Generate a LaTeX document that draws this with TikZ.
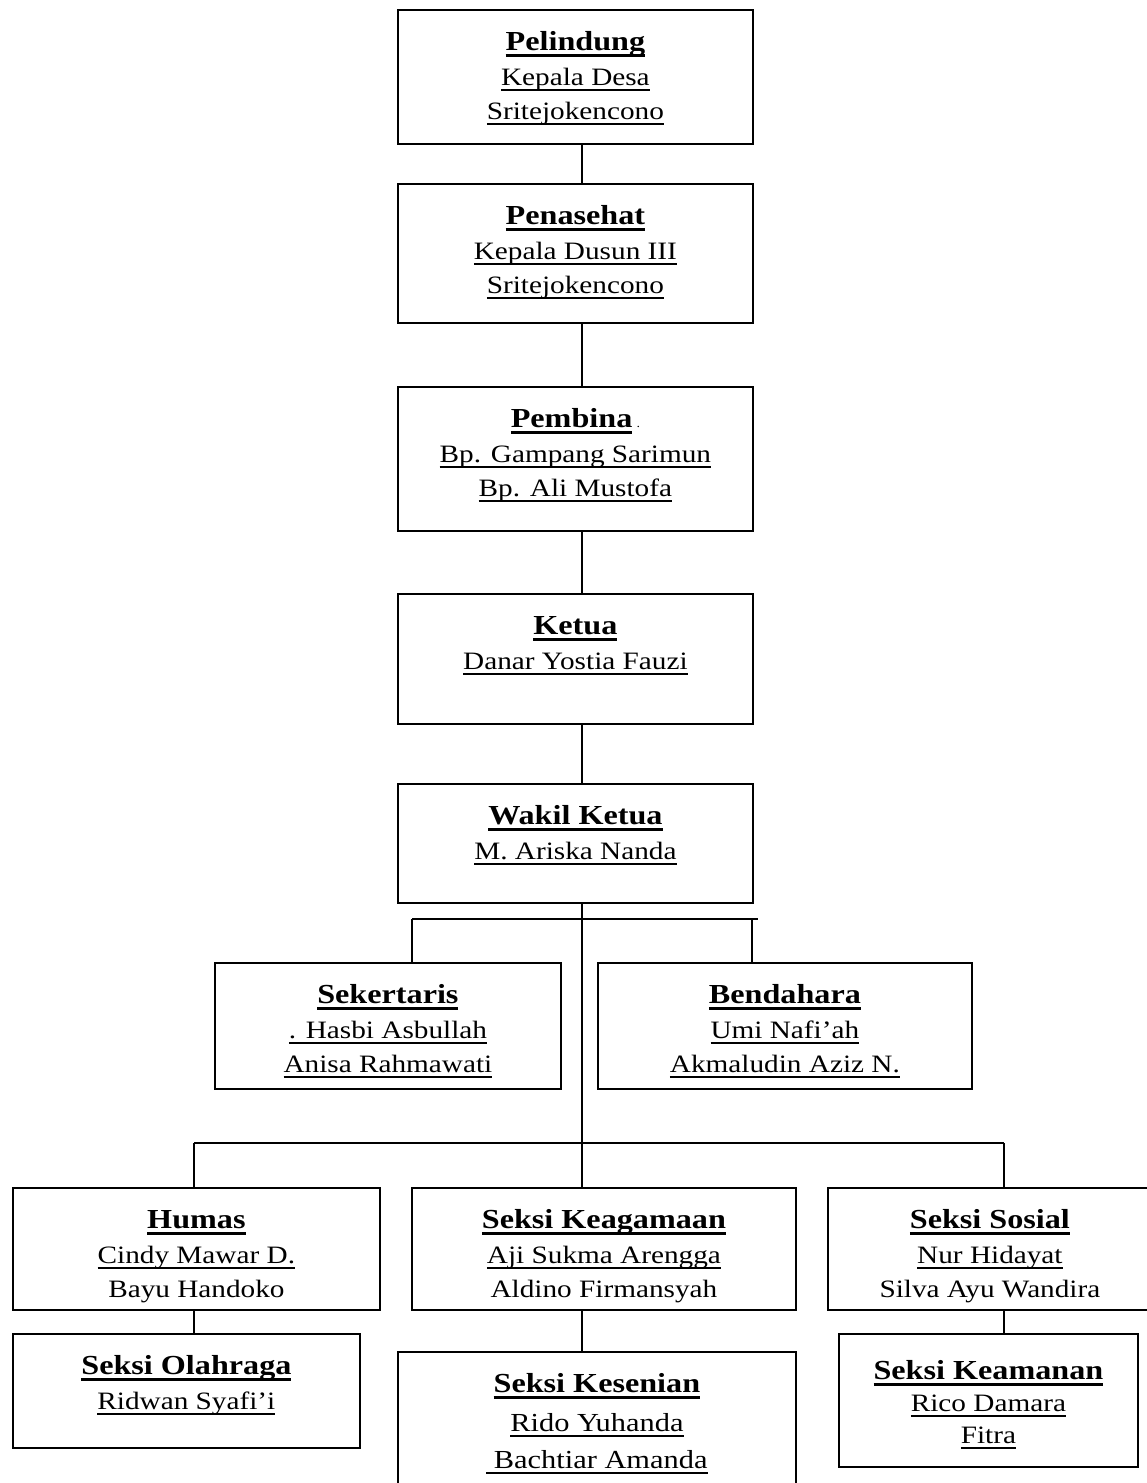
\documentclass[tikz,border=0pt]{standalone}
\usepackage{fontspec}
\setmainfont{Liberation Serif}[FakeStretch=1.17]

% underline at a fixed depth below the baseline
\newcommand{\garis}[3]{\leavevmode\setbox0=\hbox{#3}\rlap{\rule[#1]{\wd0}{#2}}\box0}
\newcommand{\ttl}[1]{{\fontsize{27.5}{34.5}\selectfont\bfseries\garis{-6pt}{3.2pt}{#1}}}
\newcommand{\nm}[1]{\garis{-5.5pt}{2pt}{#1}}
% box contents: width, height, lines
\newcommand{\isi}[3]{\parbox[t][#2pt][t]{#1pt}{\centering\rule{0pt}{41pt}#3}}

\begin{document}
\begin{tikzpicture}[x=1pt, y=-1pt,
	post/.style={draw, line width=1.8pt, inner sep=0pt, anchor=north west, font=\fontsize{25}{34.5}\selectfont},
	link/.style={line width=2pt}]
	
	\useasboundingbox (0,0) rectangle (1146,1483);
	
	% top column
	\node[post] (pelindung) at (397,9)   {\isi{355}{134}{\ttl{Pelindung}\\\nm{Kepala Desa}\\\nm{Sritejokencono}}};
	\node[post] (penasehat) at (397,183) {\isi{355}{139}{\ttl{Penasehat}\\\nm{Kepala Dusun III}\\\nm{Sritejokencono}}};
	\node[post] (pembina)   at (397,386) {\isi{355}{144}{\ttl{Pembina}\,{\fontsize{12}{12}\selectfont .}\\\nm{Bp. Gampang Sarimun}\\\nm{Bp. Ali Mustofa}}};
	\node[post] (ketua)     at (397,593) {\isi{355}{130}{\ttl{Ketua}\\\nm{Danar Yostia Fauzi}}};
	\node[post] (wakil)     at (397,783) {\isi{355}{119}{\ttl{Wakil Ketua}\\\nm{M. Ariska Nanda}}};
	
	\node[post] (sekertaris) at (214,962) {\isi{346}{126}{\ttl{Sekertaris}\\\nm{. Hasbi Asbullah}\\\nm{Anisa Rahmawati}}};
	\node[post] (bendahara)  at (597,962) {\isi{374}{126}{\ttl{Bendahara}\\\nm{Umi Nafi’ah}\\\nm{Akmaludin Aziz N.}}};
	
	% seksi
	\node[post] (humas)     at (12,1187)  {\isi{367}{122}{\ttl{Humas}\\\nm{Cindy Mawar D.}\\Bayu Handoko}};
	\node[post] (keagamaan) at (411,1187) {\isi{384}{122}{\ttl{Seksi Keagamaan}\\\nm{Aji Sukma Arengga}\\Aldino Firmansyah}};
	\node[post] (sosial)    at (827,1187) {\isi{324}{122}{\ttl{Seksi Sosial}\\\nm{Nur Hidayat}\\Silva Ayu Wandira}};
	
	\node[post] (olahraga)  at (12,1333)  {\isi{347}{114}{\ttl{Seksi Olahraga}\\\nm{Ridwan Syafi’i}}};
	\node[post] (kesenian)  at (397,1351) {\isi{398}{150}{\ttl{Seksi Kesenian}\\[2pt]{\fontsize{26}{37}\selectfont\nm{Rido Yuhanda}\\[2pt]\nm{ Bachtiar Amanda}}}};
	\node[post] (keamanan)  at (838,1333) {\isi{299}{133}{\rule{0pt}{46pt}\ttl{Seksi Keamanan}\\[-3pt]\nm{Rico Damara}\\[-2pt]\nm{Fitra}}};
	
	\coordinate (spine) at (582,0);
	\coordinate (tapSek) at (412,919);
	\coordinate (tapBen) at (752,919);
	\coordinate (barEnd) at (758,919);
	\coordinate (tapHum) at (194,1143);
	\coordinate (tapSos) at (1004,1143);
	
	\foreach \a/\b in {pelindung/penasehat, penasehat/pembina, pembina/ketua, ketua/wakil}
		\draw[link] (\a.south -| spine) -- (\b.north -| spine);
	
	\draw[link] (wakil.south -| spine) -- (tapHum -| spine);
	\draw[link] (tapSek) -- (barEnd);
	\draw[link] (tapSek) -- (tapSek |- sekertaris.north);
	\draw[link] (tapBen) -- (tapBen |- bendahara.north);
	
	\draw[link] (tapHum) -- (tapSos);
	\draw[link] (tapHum) -- (tapHum |- humas.north);
	\draw[link] (tapHum -| spine) -- (keagamaan.north -| spine);
	\draw[link] (tapSos) -- (tapSos |- sosial.north);
	
	\draw[link] (humas.south -| tapHum) -- (olahraga.north -| tapHum);
	\draw[link] (keagamaan.south -| spine) -- (kesenian.north -| spine);
	\draw[link] (sosial.south -| tapSos) -- (keamanan.north -| tapSos);
	
\end{tikzpicture}
\end{document}
